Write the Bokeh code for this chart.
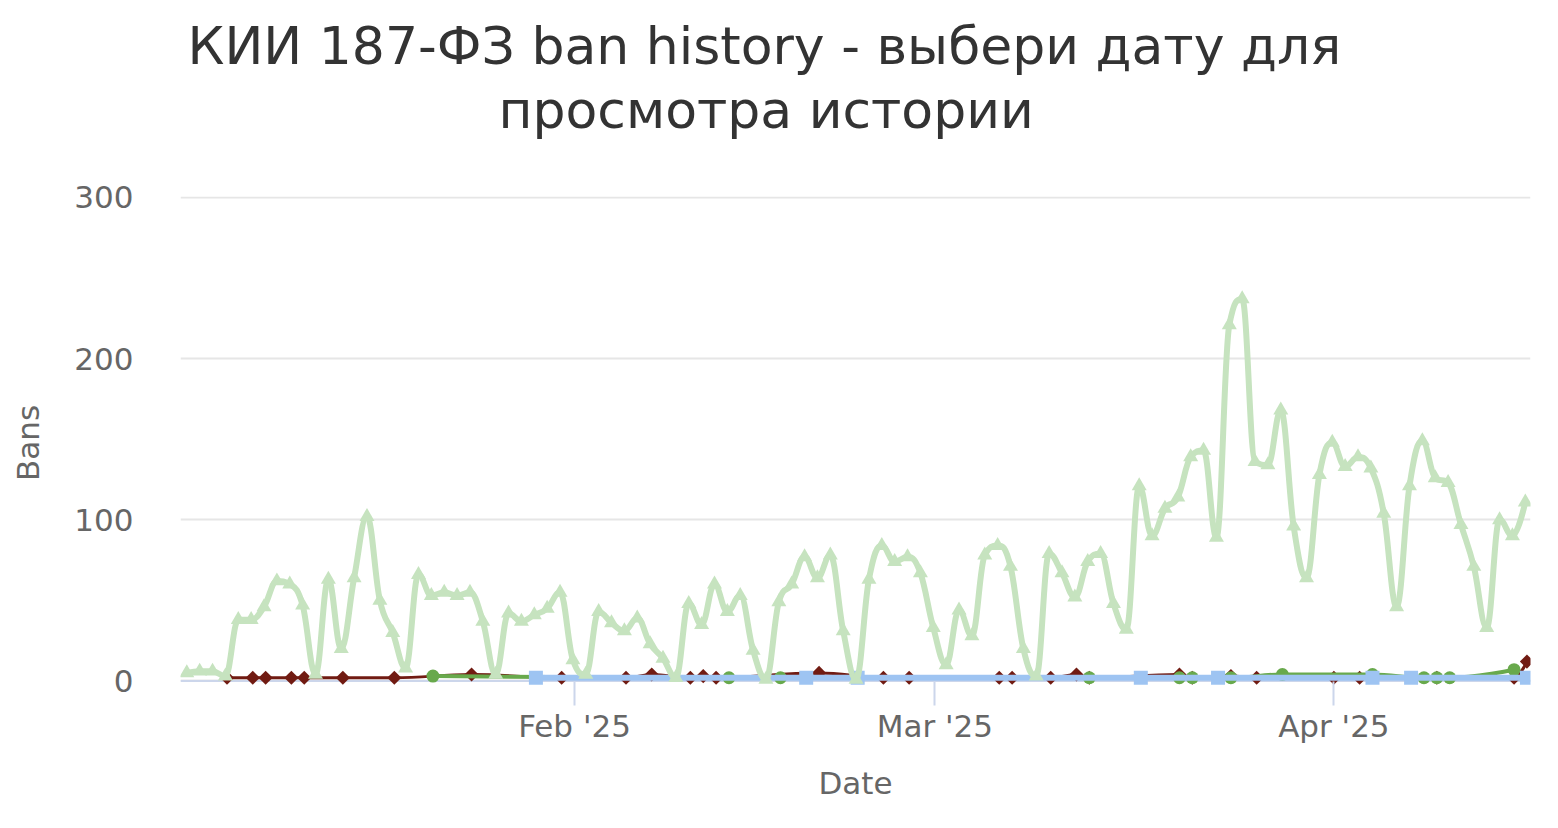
import numpy as np
import pandas as pd
from bokeh.plotting import figure
from bokeh.models import Range1d, FixedTicker, DatetimeTickFormatter, Span, Title
from bokeh.embed import file_html
from bokeh.resources import INLINE

# ---------------- data ----------------
TITLE_LINES = ["КИИ 187-ФЗ ban history - выбери дату для", "просмотра истории"]
Y_LABEL = "Bans"
X_LABEL = "Date"
X_TICK_DATES = ["2025-02-01", "2025-03-01", "2025-04-01"]
X_TICK_LABELS = ["Feb '25", "Mar '25", "Apr '25"]
Y_TICKS = [0, 100, 200, 300]

# daily series (dates are Moscow-time midnights, UTC+3)
total_start = "2025-01-02"
total_values = [5, 6, 6, 3, 38, 38, 46, 62, 60, 47,
                4, 63, 20, 64, 102, 50, 30, 8, 66, 53,
                55, 53, 55, 37, 4, 42, 37, 41, 45, 55,
                13, 4, 43, 36, 31, 39, 23, 14, 2, 48,
                35, 60, 43, 53, 19, 1, 49, 60, 77, 64,
                78, 31, 1, 63, 84, 74, 77, 67, 33, 10,
                44, 28, 78, 84, 71, 20, 3, 79, 67, 52,
                74, 79, 48, 32, 121, 90, 107, 114, 139, 143,
                89, 221, 237, 136, 134, 168, 96, 64, 128, 148,
                133, 139, 132, 104, 46, 121, 149, 126, 123, 97,
                71, 33, 100, 90, 111]

red_dates = ["2025-01-05", "2025-01-07", "2025-01-08", "2025-01-10", "2025-01-11",
             "2025-01-14", "2025-01-18", "2025-01-24", "2025-01-31", "2025-02-05",
             "2025-02-07", "2025-02-10", "2025-02-11", "2025-02-12", "2025-02-20",
             "2025-02-25", "2025-02-27", "2025-03-06", "2025-03-07", "2025-03-10",
             "2025-03-12", "2025-03-13", "2025-03-20", "2025-03-21", "2025-03-24",
             "2025-03-26", "2025-04-01", "2025-04-03", "2025-04-09", "2025-04-15",
             "2025-04-16"]
red_values = [2, 2, 2, 2, 2,
              2, 2, 4, 2, 2,
              4, 2, 3, 2, 5,
              2, 2, 2, 2, 2,
              4, 2, 4, 2, 3,
              2, 2, 2, 2, 2,
              12]

green_dates = ["2025-01-21", "2025-02-13", "2025-02-17", "2025-03-13", "2025-03-20",
               "2025-03-21", "2025-03-24", "2025-03-28", "2025-04-04", "2025-04-08",
               "2025-04-09", "2025-04-10", "2025-04-15"]
green_values = [3, 2, 2, 2, 2,
                2, 2, 4, 4, 2,
                2, 2, 7]

blue_dates = ["2025-01-29", "2025-02-19", "2025-02-23", "2025-03-17", "2025-03-23",
              "2025-04-04", "2025-04-07", "2025-04-16"]
blue_values = [2, 2, 2, 2, 2, 2, 2, 2]

X_START = "2025-01-01 09:15"
X_END = "2025-04-16 06:40"

# ---------------- helpers ----------------
EPOCH = pd.Timestamp("1970-01-01")


def to_ms(ts):
    return ((pd.to_datetime(ts) - EPOCH) / pd.Timedelta(milliseconds=1))


def spline(xs, ys):
    """Highcharts-style spline control points -> bezier segments."""
    xs = np.asarray(xs, dtype=float)
    ys = np.asarray(ys, dtype=float)
    n = len(xs)
    lcx, lcy = xs.copy(), ys.copy()
    rcx, rcy = xs.copy(), ys.copy()
    s, d = 1.5, 2.5
    for i in range(1, n - 1):
        px, py = xs[i], ys[i]
        lx, ly = xs[i - 1], ys[i - 1]
        nx, ny = xs[i + 1], ys[i + 1]
        Lx = (s * px + lx) / d
        Ly = (s * py + ly) / d
        Rx = (s * px + nx) / d
        Ry = (s * py + ny) / d
        corr = 0.0
        if Rx != Lx:
            corr = ((Ry - Ly) * (Rx - px)) / (Rx - Lx) + py - Ry
        Ly += corr
        Ry += corr
        if Ly > ly and Ly > py:
            Ly = max(ly, py)
            Ry = 2 * py - Ly
        elif Ly < ly and Ly < py:
            Ly = min(ly, py)
            Ry = 2 * py - Ly
        if Ry > ny and Ry > py:
            Ry = max(ny, py)
            Ly = 2 * py - Ry
        elif Ry < ny and Ry < py:
            Ry = min(ny, py)
            Ly = 2 * py - Ry
        lcx[i], lcy[i], rcx[i], rcy[i] = Lx, Ly, Rx, Ry
    return dict(x0=xs[:-1], y0=ys[:-1], x1=xs[1:], y1=ys[1:],
                cx0=rcx[:-1], cy0=rcy[:-1], cx1=lcx[1:], cy1=lcy[1:])


# ---------------- figure ----------------
p = figure(width=1550, height=820, x_axis_type="datetime",
           output_backend="svg", toolbar_location=None,
           x_range=Range1d(to_ms(X_START), to_ms(X_END)),
           y_range=Range1d(-5.3, 300.62),
           min_border_left=180, min_border_right=20,
           min_border_top=196, min_border_bottom=131)
p.outline_line_color = None
p.background_fill_color = "white"
p.border_fill_color = "white"

FONT = "DejaVu Sans"
TITLE_SIZE = "52px"

spacer = Title(text=" ", text_font_size="1px", standoff=53)
t2 = Title(text=TITLE_LINES[1], align="left", text_font=FONT,
           text_font_size=TITLE_SIZE, text_font_style="normal",
           text_color="#333333", offset=318, standoff=2)
t1 = Title(text=TITLE_LINES[0], align="left", text_font=FONT,
           text_font_size=TITLE_SIZE, text_font_style="normal",
           text_color="#333333", offset=7, standoff=2)
p.add_layout(spacer, "above")
p.add_layout(t2, "above")
p.add_layout(t1, "above")

# y axis
p.yaxis.ticker = FixedTicker(ticks=Y_TICKS)
p.yaxis.axis_line_color = None
p.yaxis.major_tick_line_color = None
p.yaxis.minor_tick_line_color = None
p.yaxis.major_tick_out = 0
p.yaxis.major_tick_in = 0
p.yaxis.major_label_standoff = 47
p.yaxis.major_label_text_font = FONT
p.yaxis.major_label_text_font_size = "31px"
p.yaxis.major_label_text_color = "#666666"
p.yaxis.axis_label = Y_LABEL
p.yaxis.axis_label_text_font = FONT
p.yaxis.axis_label_text_font_size = "31px"
p.yaxis.axis_label_text_font_style = "normal"
p.yaxis.axis_label_text_color = "#666666"
p.yaxis.axis_label_standoff = 25

# x axis
tick_ms = [float(v) for v in to_ms(X_TICK_DATES)]
p.xaxis.ticker = FixedTicker(ticks=tick_ms)
p.xaxis.major_label_overrides = {t: lab for t, lab in zip(tick_ms, X_TICK_LABELS)}
fmt = "%b '%y"
p.xaxis.formatter = DatetimeTickFormatter(
    milliseconds=fmt, seconds=fmt, minsec=fmt, minutes=fmt, hourmin=fmt,
    hours=fmt, days=fmt, months=fmt, years=fmt)
p.xaxis.axis_line_color = None
p.xaxis.minor_tick_line_color = None
p.xaxis.major_tick_line_color = "#ccd6eb"
p.xaxis.major_tick_line_width = 2
p.xaxis.major_tick_in = 8
p.xaxis.major_tick_out = 16
p.xaxis.major_label_standoff = 2
p.xaxis.major_label_text_font = FONT
p.xaxis.major_label_text_font_size = "31px"
p.xaxis.major_label_text_color = "#666666"
p.xaxis.axis_label = X_LABEL
p.xaxis.axis_label_text_font = FONT
p.xaxis.axis_label_text_font_size = "31px"
p.xaxis.axis_label_text_font_style = "normal"
p.xaxis.axis_label_text_color = "#666666"
p.xaxis.axis_label_standoff = 18

p.xgrid.grid_line_color = None
p.ygrid.ticker = FixedTicker(ticks=Y_TICKS)
p.ygrid.grid_line_color = "#e6e6e6"
p.ygrid.grid_line_width = 2

p.add_layout(Span(location=0, dimension="width", line_color="#ccd6eb",
                  line_width=2, level="underlay"))

# ---------------- series ----------------
red_x = to_ms(red_dates).to_numpy()
green_x = to_ms(green_dates).to_numpy()
blue_x = to_ms(blue_dates).to_numpy()
total_dates = pd.date_range(total_start, periods=len(total_values), freq="D")
total_x = (to_ms(total_dates) - 3 * 3600 * 1000).to_numpy()  # MSK -> UTC

RED, GREEN, BLUE, LGREEN = "#711b12", "#68a94c", "#9ec4f2", "#c6e3bf"

p.bezier(line_color=RED, line_width=3, line_cap="round", **spline(red_x, red_values))
p.scatter(red_x, red_values, marker="square", angle=np.pi / 4, size=10,
          fill_color=RED, line_color=None)

p.bezier(line_color=GREEN, line_width=4, line_cap="round", **spline(green_x, green_values))
p.scatter(green_x, green_values, marker="circle", size=13,
          fill_color=GREEN, line_color=None)

p.bezier(line_color=BLUE, line_width=6, line_cap="round", **spline(blue_x, blue_values))
p.scatter(blue_x, blue_values, marker="square", size=14,
          fill_color=BLUE, line_color=None)

p.bezier(line_color=LGREEN, line_width=6, line_cap="round", **spline(total_x, total_values))
p.scatter(total_x, total_values, marker="triangle", size=15,
          fill_color=LGREEN, line_color=None)

open("out.html", "w").write(file_html(p, INLINE))
